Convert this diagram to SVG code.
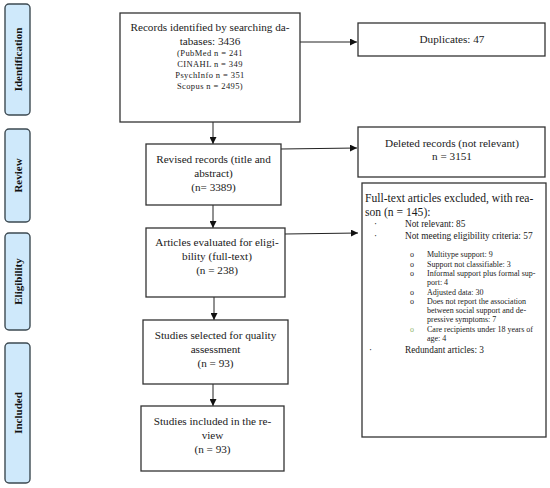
<svg xmlns="http://www.w3.org/2000/svg" width="550" height="488" viewBox="0 0 550 488">
<defs>
<marker id="ah" viewBox="0 0 10 10" refX="10" refY="5" markerWidth="7" markerHeight="7" markerUnits="userSpaceOnUse" orient="auto">
<path d="M0,0 L10,5 L0,10 z" fill="#111"/>
</marker>
</defs>
<style>
.tab{fill:#cfe9fb;stroke:#3d4a52;stroke-width:1.4}
.tt{font-family:"Liberation Serif",serif;font-weight:bold;font-size:11px;fill:#111;text-anchor:middle}
.box{fill:#fff;stroke:#333;stroke-width:1.3}
.t{font-family:"Liberation Serif",serif;font-size:11.2px;fill:#1a1a1a;text-anchor:middle}
.s{font-family:"Liberation Serif",serif;font-size:8.5px;fill:#1a1a1a;text-anchor:middle;letter-spacing:0.4px}
.h{font-family:"Liberation Serif",serif;font-size:11.6px;fill:#1a1a1a}
.l{font-family:"Liberation Serif",serif;font-size:9.3px;fill:#1a1a1a}
.m{font-family:"Liberation Serif",serif;font-size:8px;fill:#222}
.g{fill:#8fb46a}
.c{stroke:#222;stroke-width:1;fill:none;marker-end:url(#ah)}
</style>
<rect width="550" height="488" fill="#fff"/>

<g id="tab-identification"><rect class="tab" x="5" y="4" width="25" height="111" rx="4"/><text class="tt" transform="translate(21.5,59.5) rotate(-90)">Identification</text></g>
<g id="tab-review"><rect class="tab" x="5" y="129" width="25" height="93" rx="4"/><text class="tt" transform="translate(21.5,175.5) rotate(-90)">Review</text></g>
<g id="tab-eligibility"><rect class="tab" x="5" y="233" width="25" height="97" rx="4"/><text class="tt" transform="translate(21.5,281.5) rotate(-90)">Eligibility</text></g>
<g id="tab-included"><rect class="tab" x="5" y="343" width="25" height="140" rx="4"/><text class="tt" transform="translate(21.5,413) rotate(-90)">Included</text></g>

<g id="connectors">
<line class="c" x1="300" y1="42" x2="357" y2="42"/>
<line class="c" x1="213" y1="122" x2="213" y2="144"/>
<line class="c" x1="281" y1="149" x2="357" y2="148"/>
<line class="c" x1="213" y1="205" x2="213" y2="228"/>
<line class="c" x1="285" y1="234" x2="358" y2="233"/>
<line class="c" x1="214" y1="297" x2="214" y2="320"/>
<line class="c" x1="213" y1="384" x2="213" y2="406"/>
</g>

<g id="records">
<rect class="box" x="120" y="13" width="180" height="109"/>
<text class="t" x="210" y="31">Records identified by searching da-</text>
<text class="t" x="210" y="45">tabases: 3436</text>
<text class="s" x="210" y="56">(PubMed n = 241</text>
<text class="s" x="210" y="67">CINAHL n = 349</text>
<text class="s" x="210" y="78">PsychInfo n = 351</text>
<text class="s" x="210" y="89">Scopus n = 2495)</text>
</g>

<g id="duplicates">
<rect class="box" x="358" y="23" width="187" height="33"/>
<text class="t" x="452" y="43">Duplicates: 47</text>
</g>

<g id="revised">
<rect class="box" x="146" y="144" width="135" height="61"/>
<text class="t" x="213.5" y="163">Revised records (title and</text>
<text class="t" x="213.5" y="177">abstract)</text>
<text class="t" x="213.5" y="191">(n= 3389)</text>
</g>

<g id="deleted">
<rect class="box" x="358" y="127" width="187" height="50"/>
<text class="t" x="452" y="147">Deleted records (not relevant)</text>
<text class="t" x="452" y="160">n = 3151</text>
</g>

<g id="articles">
<rect class="box" x="146" y="228" width="139" height="69"/>
<text class="t" x="217" y="246">Articles evaluated for eligi-</text>
<text class="t" x="217" y="260">bility (full-text)</text>
<text class="t" x="217" y="274">(n = 238)</text>
</g>

<g id="excluded">
<rect class="box" x="362" y="183" width="184" height="254"/>
<text class="h" x="365" y="202">Full-text articles excluded, with rea-</text>
<text class="h" x="365" y="216">son (n = 145):</text>
<text class="l" x="374" y="227">·</text>
<text class="l" x="405" y="227">Not relevant: 85</text>
<text class="l" x="374" y="239">·</text>
<text class="l" x="405" y="239">Not meeting eligibility criteria: 57</text>
<text class="m" x="410" y="257">o</text><text class="m" x="427" y="257">Multitype support: 9</text>
<text class="m" x="410" y="266.5">o</text><text class="m" x="427" y="266.5">Support not classifiable: 3</text>
<text class="m" x="410" y="276">o</text><text class="m" x="427" y="276">Informal support plus formal sup-</text>
<text class="m" x="427" y="285">port: 4</text>
<text class="m" x="410" y="294.5">o</text><text class="m" x="427" y="294.5">Adjusted data: 30</text>
<text class="m" x="410" y="304">o</text><text class="m" x="427" y="304">Does not report the association</text>
<text class="m" x="427" y="313">between social support and de-</text>
<text class="m" x="427" y="322">pressive symptoms: 7</text>
<text class="m g" x="410" y="331.5">o</text><text class="m" x="427" y="331.5">Care recipients under 18 years of</text>
<text class="m" x="427" y="340.5">age: 4</text>
<text class="l" x="369" y="353">·</text>
<text class="l" x="405" y="353">Redundant articles: 3</text>
</g>

<g id="selected">
<rect class="box" x="143" y="320" width="145" height="64"/>
<text class="t" x="215.5" y="339">Studies selected for quality</text>
<text class="t" x="215.5" y="353">assessment</text>
<text class="t" x="215.5" y="367">(n = 93)</text>
</g>

<g id="included">
<rect class="box" x="141" y="406" width="143" height="65"/>
<text class="t" x="212.5" y="425">Studies included in the re-</text>
<text class="t" x="212.5" y="439">view</text>
<text class="t" x="212.5" y="453">(n = 93)</text>
</g>
</svg>
